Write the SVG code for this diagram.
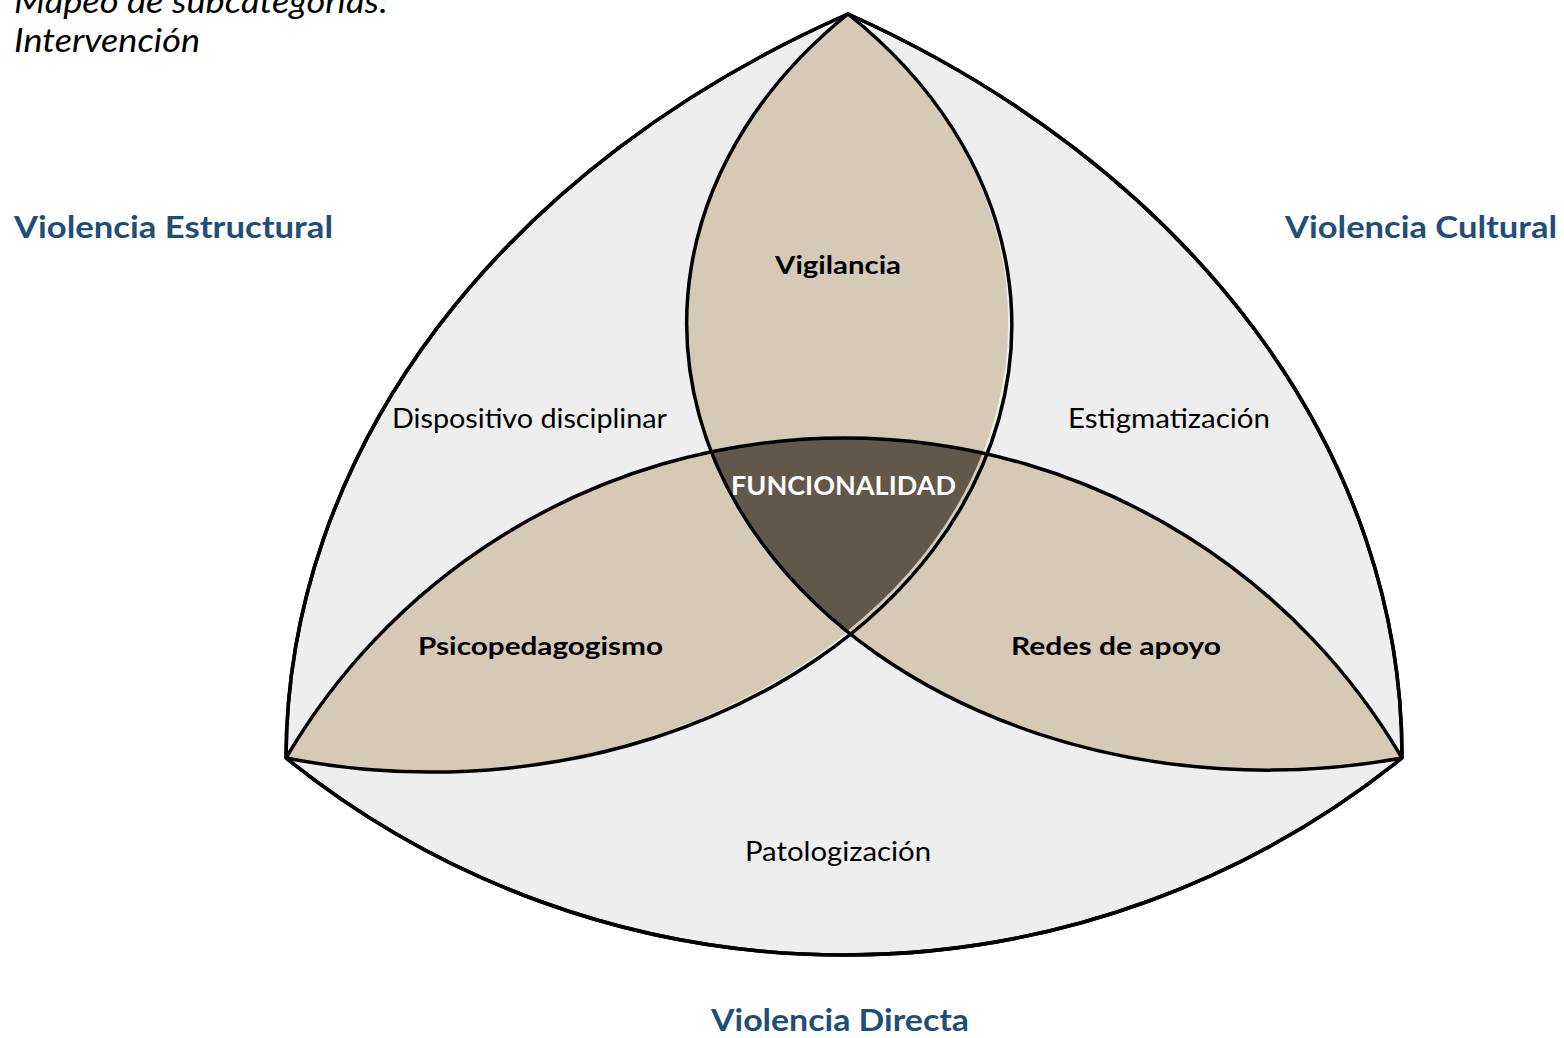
<svg xmlns="http://www.w3.org/2000/svg" width="1564" height="1038" viewBox="0 0 1564 1038">
<style>
.bg{fill:#ffffff}
.outer{fill:#eeeeee;stroke:#000;stroke-width:3.5;stroke-linejoin:round}
.lens{fill:#d5cab6;stroke:none}
.core{fill:#625849;stroke:none}
.arc{fill:none;stroke:#000;stroke-width:3.5;stroke-linejoin:round}
text{font-family:Lato,"Open Sans","Liberation Sans",sans-serif}
.head{font-weight:bold;font-size:30px;fill:#1f4e79}
.lb{font-weight:bold;font-size:24px;fill:#000}
.lr{font-size:26px;fill:#000}
.core-t{font-weight:bold;font-size:26px;fill:#fff}
.title{font-style:italic;font-size:32px;fill:#000}
</style>
<rect class="bg" x="0" y="0" width="1564" height="1038"/>
<g id="title">
<text class="title" x="14" y="13" textLength="374" lengthAdjust="spacingAndGlyphs">Mapeo de subcategorías:</text>
<text class="title" x="14" y="52" textLength="186" lengthAdjust="spacingAndGlyphs">Intervención</text>
</g>
<g id="outer-triangle">
<path class="outer" d="M848,14 A1116,859 0 0 0 286,758 A889,889 0 0 0 1402,758 A1116,859 0 0 0 848,14 Z"/>
</g>
<g id="lens-vigilancia">
<path class="lens" d="M848,14 A581,447 0 0 0 846,632 A581,447 0 0 0 848,14 Z"/>
</g>
<g id="lens-psicopedagogismo">
<path class="lens" d="M286,758 A646.5,646.5 0 0 1 983,452 A581,447 0 0 1 286,758 Z"/>
</g>
<g id="lens-redes">
<path class="lens" d="M1402,758 A646.5,646.5 0 0 0 711,452 A581,447 0 0 0 1402,758 Z"/>
</g>
<g id="core-funcionalidad">
<path class="core" d="M711,452 A646.5,646.5 0 0 1 983,452 A581,447 0 0 1 846,632 A581,447 0 0 1 711,452 Z"/>
</g>
<g id="connectors">
<path class="arc" d="M286,758 A646.5,646.5 0 0 1 1402,758"/>
<path class="arc" d="M848,14 A581,447 0 0 1 286,758"/>
<path class="arc" d="M848,14 A581,447 0 0 0 1402,758"/>
<path class="arc" d="M848,14 A1116,859 0 0 0 286,758 A889,889 0 0 0 1402,758 A1116,859 0 0 0 848,14 Z"/>
</g>
<g id="labels">
<text class="head" x="14" y="238" textLength="319" lengthAdjust="spacingAndGlyphs">Violencia Estructural</text>
<text class="head" x="1285" y="238" textLength="272" lengthAdjust="spacingAndGlyphs">Violencia Cultural</text>
<text class="head" x="711" y="1031" textLength="258" lengthAdjust="spacingAndGlyphs">Violencia Directa</text>
<text class="lb" x="775" y="274" textLength="126" lengthAdjust="spacingAndGlyphs">Vigilancia</text>
<text class="lr" x="392" y="428" textLength="275" lengthAdjust="spacingAndGlyphs">Dispositivo disciplinar</text>
<text class="lr" x="1068" y="428" textLength="202" lengthAdjust="spacingAndGlyphs">Estigmatización</text>
<text class="core-t" x="731" y="495" textLength="225" lengthAdjust="spacingAndGlyphs">FUNCIONALIDAD</text>
<text class="lb" x="418" y="655" textLength="245" lengthAdjust="spacingAndGlyphs">Psicopedagogismo</text>
<text class="lb" x="1011" y="655" textLength="210" lengthAdjust="spacingAndGlyphs">Redes de apoyo</text>
<text class="lr" x="745" y="861" textLength="186" lengthAdjust="spacingAndGlyphs">Patologización</text>
</g>
</svg>
